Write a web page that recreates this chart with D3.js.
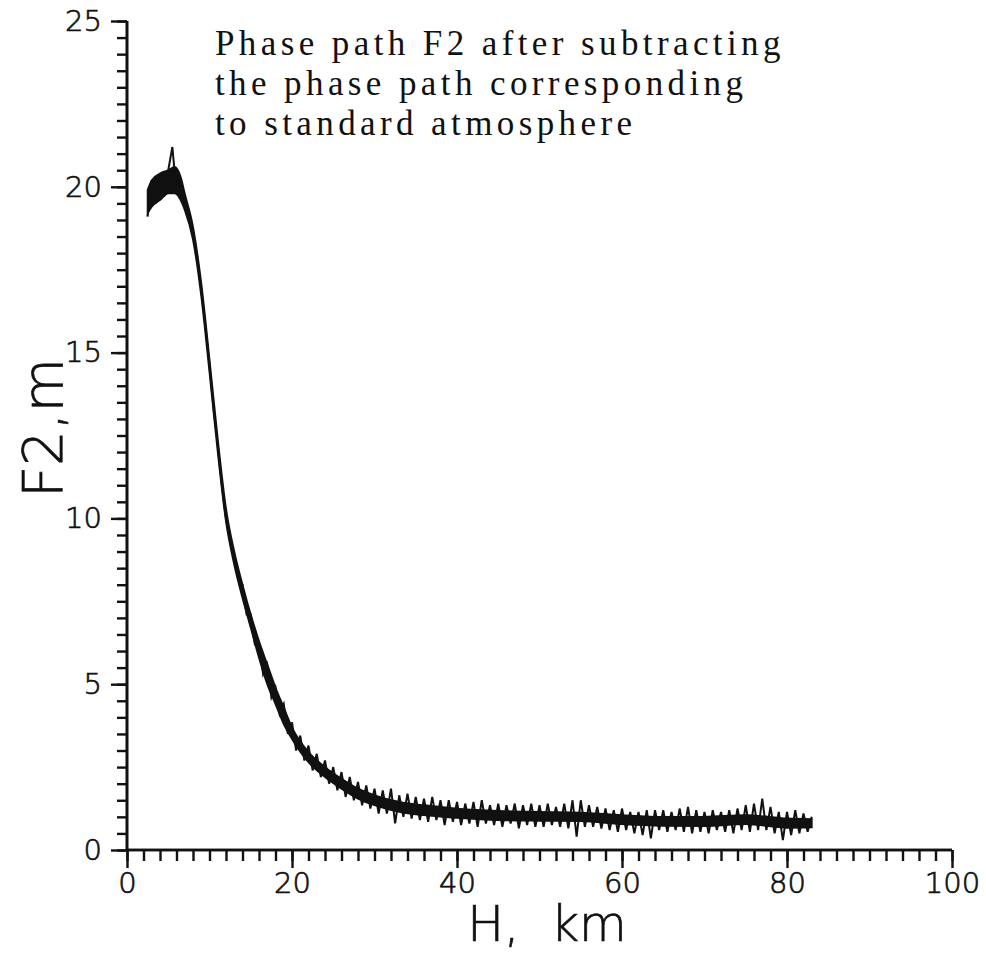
<!DOCTYPE html>
<html>
<head>
<meta charset="utf-8">
<script src="https://cdn.jsdelivr.net/npm/d3@7"></script>
<style>
  html, body { margin: 0; padding: 0; background: #fff; }
  svg { display: block; }
  .tick-label { font-family: "DejaVu Sans", "Open Sans", sans-serif; font-weight: 200; fill: #111; stroke: #111; stroke-width: 0.7px; }
  .title-text { font-family: "Liberation Serif", "Times New Roman", serif; fill: #111; }
</style>
</head>
<body>
<svg id="chart" width="986" height="953"></svg>
<script>
// ---- data ----
const heightKm = [
  2.5, 3.0, 3.5, 4.0, 4.5, 5.0, 5.5, 6.0, 6.5, 7.0,
  7.5, 8.0, 8.5, 9.0, 9.5, 10.0, 10.5, 11.0, 11.5, 12.0,
  12.5, 13.0, 13.5, 14.0, 14.5, 15.0, 15.5, 16.0, 16.5, 17.0,
  17.5, 18.0, 18.5, 19.0, 19.5, 20.0, 20.5, 21.0, 21.5, 22.0,
  22.5, 23.0, 23.5, 24.0, 24.5, 25.0, 25.5, 26.0, 26.5, 27.0,
  27.5, 28.0, 28.5, 29.0, 29.5, 30.0, 30.5, 31.0, 31.5, 32.0,
  32.5, 33.0, 33.5, 34.0, 34.5, 35.0, 35.5, 36.0, 36.5, 37.0,
  37.5, 38.0, 38.5, 39.0, 39.5, 40.0, 40.5, 41.0, 41.5, 42.0,
  42.5, 43.0, 43.5, 44.0, 44.5, 45.0, 45.5, 46.0, 46.5, 47.0,
  47.5, 48.0, 48.5, 49.0, 49.5, 50.0, 50.5, 51.0, 51.5, 52.0,
  52.5, 53.0, 53.5, 54.0, 54.5, 55.0, 55.5, 56.0, 56.5, 57.0,
  57.5, 58.0, 58.5, 59.0, 59.5, 60.0, 60.5, 61.0, 61.5, 62.0,
  62.5, 63.0, 63.5, 64.0, 64.5, 65.0, 65.5, 66.0, 66.5, 67.0,
  67.5, 68.0, 68.5, 69.0, 69.5, 70.0, 70.5, 71.0, 71.5, 72.0,
  72.5, 73.0, 73.5, 74.0, 74.5, 75.0, 75.5, 76.0, 76.5, 77.0,
  77.5, 78.0, 78.5, 79.0, 79.5, 80.0, 80.5, 81.0, 81.5, 82.0,
  82.5, 83.0
];
const f2Meters = [
  19.1, 20.2, 19.5, 20.4, 19.7, 20.5, 21.2, 19.8, 20.2, 19.5,
  19.3, 18.5, 17.9, 16.9, 15.8, 14.6, 13.3, 12.2, 11.0, 10.0,
  9.3, 8.9, 8.2, 8.0, 7.1, 7.1, 6.2, 6.2, 5.3, 5.6,
  4.6, 4.9, 4.1, 4.4, 3.5, 3.85, 3.0, 3.45, 2.7, 3.15,
  2.4, 2.9, 2.2, 2.7, 2.0, 2.5, 1.8, 2.35, 1.6, 2.2,
  1.5, 2.05, 1.35, 1.95, 1.25, 1.85, 1.1, 1.8, 1.1, 1.85,
  0.8, 1.65, 1.0, 1.7, 0.95, 1.6, 0.9, 1.55, 0.85, 1.6,
  0.9, 1.5, 0.75, 1.5, 0.85, 1.45, 0.75, 1.4, 0.8, 1.45,
  0.7, 1.5, 0.8, 1.35, 0.75, 1.4, 0.7, 1.35, 0.8, 1.4,
  0.65, 1.35, 0.75, 1.4, 0.7, 1.35, 0.7, 1.4, 0.75, 1.3,
  0.7, 1.4, 0.65, 1.5, 0.4, 1.5, 0.7, 1.35, 0.7, 1.3,
  0.65, 1.25, 0.6, 1.2, 0.55, 1.25, 0.6, 1.15, 0.5, 1.15,
  0.45, 1.2, 0.35, 1.2, 0.6, 1.2, 0.55, 1.15, 0.6, 1.25,
  0.55, 1.3, 0.5, 1.2, 0.55, 1.15, 0.5, 1.2, 0.6, 1.15,
  0.55, 1.2, 0.5, 1.25, 0.6, 1.35, 0.55, 1.4, 0.6, 1.55,
  0.6, 1.3, 0.5, 1.15, 0.3, 1.15, 0.45, 1.2, 0.5, 1.1,
  0.55, 1.0
];
// dense core of the noisy trace (lower / upper edge of the solid band)
const bandKm   = [2.5, 3.0, 4.0, 5.0, 5.8, 6.5, 7.0, 8.0, 9.0, 10.0, 11.0, 12.0, 13.0, 14.0, 15.0, 16.0, 17.0, 18.0, 19.0, 20.0, 22.0, 24.0, 26.0, 28.0, 30.0, 33.0, 36.0, 40.0, 45.0, 50.0, 55.0, 60.0, 65.0, 70.0, 75.0, 80.0, 83.0];
const bandLow  = [19.2, 19.4, 19.6, 19.8, 19.8, 19.6, 19.3, 18.4, 16.7, 14.4, 12.0, 9.9, 8.6, 7.6, 6.7, 5.8, 5.0, 4.4, 3.8, 3.35, 2.65, 2.2, 1.85, 1.55, 1.35, 1.15, 1.05, 0.97, 0.9, 0.88, 0.87, 0.78, 0.73, 0.72, 0.78, 0.67, 0.68];
const bandHigh = [19.9, 20.2, 20.4, 20.5, 20.6, 20.3, 19.8, 18.8, 17.1, 14.8, 12.4, 10.3, 9.0, 8.0, 7.1, 6.3, 5.6, 4.9, 4.3, 3.7, 2.95, 2.5, 2.15, 1.85, 1.65, 1.45, 1.35, 1.25, 1.18, 1.15, 1.13, 1.05, 1.0, 1.0, 1.05, 0.95, 0.93];

const xTickLabels = [0, 20, 40, 60, 80, 100];
const yTickLabels = [0, 5, 10, 15, 20, 25];
const titleLines = [
  "Phase path F2 after subtracting",
  "the phase path corresponding",
  "to standard atmosphere"
];
const xAxisTitle = "H,  km";
const yAxisTitle = "F2,m";

// ---- layout ----
const svg = d3.select("#chart");
const x = d3.scaleLinear().domain([0, 100]).range([127, 952]);
const y = d3.scaleLinear().domain([0, 25]).range([850, 21]);
const ink = "#111";

const xMinor = d3.axisBottom(x).tickValues(d3.range(0, 101, 2)).tickSize(11).tickFormat("");
const gxm = svg.append("g").attr("transform", `translate(0,${y(0)})`).call(xMinor);
const xMajor = d3.axisBottom(x).tickValues(xTickLabels).tickSize(18).tickPadding(4).tickFormat(d3.format("d"));
const gx = svg.append("g").attr("transform", `translate(0,${y(0)})`).call(xMajor);

const yMinor = d3.axisLeft(y).tickValues(d3.range(0, 25.01, 0.5)).tickSize(10).tickFormat("");
const gym = svg.append("g").attr("transform", `translate(${x(0)},0)`).call(yMinor);
const yMajor = d3.axisLeft(y).tickValues(yTickLabels).tickSize(16).tickPadding(9).tickFormat(d3.format("d"));
const gy = svg.append("g").attr("transform", `translate(${x(0)},0)`).call(yMajor);

[gxm, gx, gym, gy].forEach(g => {
  g.select(".domain").attr("stroke", ink).attr("stroke-width", 2.6);
  g.selectAll(".tick line").attr("stroke", ink).attr("stroke-width", 2.4);
  g.selectAll(".tick text").attr("class", "tick-label").attr("font-size", 29).attr("fill", ink);
});
gx.select(".domain").attr("d", `M${x(0)},0H${x(100)}`);
gxm.select(".domain").attr("d", `M${x(0)},0H${x(100)}`);
gy.select(".domain").attr("d", `M0,${y(0)}V${y(25)}`);
gym.select(".domain").attr("d", `M0,${y(0)}V${y(25)}`);

// solid core band
const band = bandKm.map((h, i) => ({ h, lo: bandLow[i], hi: bandHigh[i] }));
svg.append("path")
  .datum(band)
  .attr("fill", ink)
  .attr("stroke", ink)
  .attr("stroke-width", 1.8)
  .attr("d", d3.area().x(d => x(d.h)).y0(d => y(d.lo)).y1(d => y(d.hi)).curve(d3.curveMonotoneX));

// noisy trace
const data = heightKm.map((h, i) => [h, f2Meters[i]]);
svg.append("path")
  .datum(data)
  .attr("fill", "none")
  .attr("stroke", ink)
  .attr("stroke-width", 2.0)
  .attr("stroke-linejoin", "miter")
  .attr("d", d3.line().x(d => x(d[0])).y(d => y(d[1])));

// annotation
const tg = svg.append("text").attr("class", "title-text")
  .attr("font-size", 35).attr("letter-spacing", 4.4);
titleLines.forEach((t, i) => {
  tg.append("tspan").attr("x", 215).attr("y", 55 + i * 40).text(t);
});

// axis titles
svg.append("text").attr("class", "tick-label")
  .attr("font-size", 49)
  .attr("text-anchor", "middle")
  .attr("x", 547).attr("y", 941)
  .style("white-space", "pre")
  .text(xAxisTitle);

svg.append("text").attr("class", "tick-label")
  .attr("font-size", 56)
  .attr("text-anchor", "middle")
  .attr("transform", "translate(62,428) rotate(-90)")
  .text(yAxisTitle);
</script>
</body>
</html>
